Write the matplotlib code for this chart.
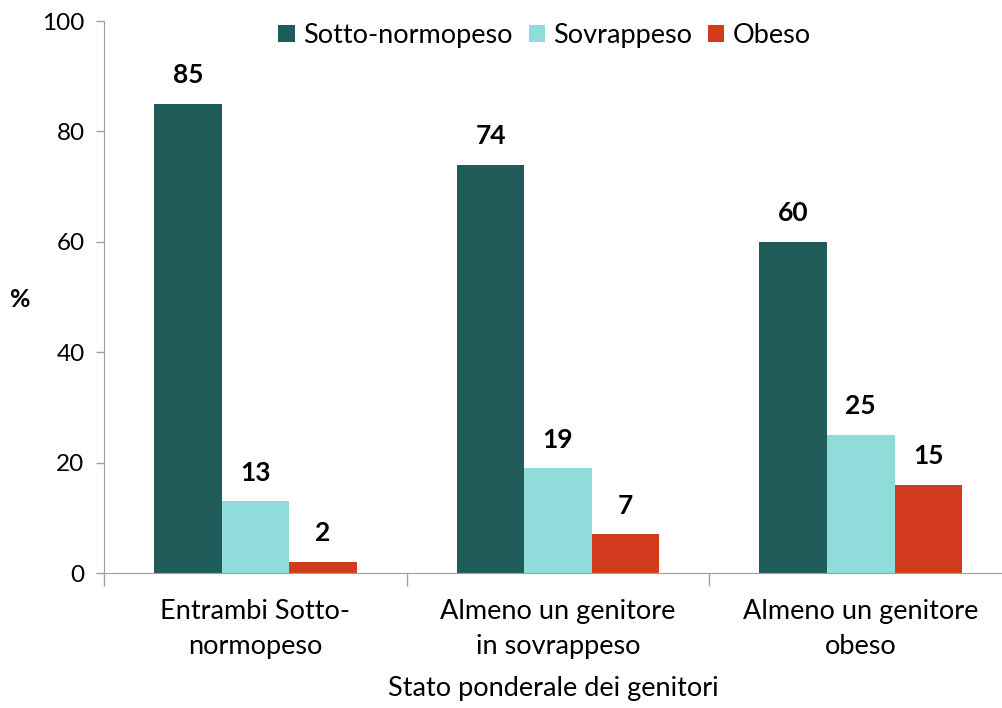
import numpy as np
import matplotlib
matplotlib.use("Agg")
import matplotlib.pyplot as plt

categories = ["Entrambi Sotto-\nnormopeso", "Almeno un genitore\nin sovrappeso", "Almeno un genitore\nobeso"]
series_names = ["Sotto-normopeso", "Sovrappeso", "Obeso"]
sotto_normopeso = [85, 74, 60]
sovrappeso = [13, 19, 25]
obeso = [2, 7, 16]
value_labels = [["85", "74", "60"], ["13", "19", "25"], ["2", "7", "15"]]
colors = ["#1F5C5A", "#8FDCDA", "#D23B1E"]

plt.rcParams['font.family'] = ['Lato', 'DejaVu Sans']

fig = plt.figure(figsize=(10.03, 7.08), dpi=100)
ax = fig.add_axes([104/1003, 135/708, 899/1003, 552/708])

x = np.arange(len(categories))
w = 0.223
all_series = [sotto_normopeso, sovrappeso, obeso]
for i, vals in enumerate(all_series):
    bars = ax.bar(x + (i - 1) * w, vals, w, color=colors[i], label=series_names[i])
    for b, lab in zip(bars, value_labels[i]):
        ax.text(b.get_x() + b.get_width()/2, b.get_height() + 3.0, lab,
                ha='center', va='bottom', fontsize=19, fontweight='bold')

ax.set_xlim(-0.5, -0.5 + 899/302.7)
ax.set_ylim(0, 100)
ax.set_yticks([0, 20, 40, 60, 80, 100])
ax.tick_params(axis='y', labelsize=17.5, length=6, color='#A0A0A0', width=1, pad=8)
ax.set_xticks(x)
ax.set_xticklabels(categories, fontsize=19.5, linespacing=1.5)
ax.tick_params(axis='x', length=0, pad=19)
# tacche sui confini delle categorie
ax.set_xticks(np.arange(-0.5, 2.5, 1), minor=True)
ax.tick_params(axis='x', which='minor', length=9, color='#A0A0A0', width=1)

for s in ['top', 'right']:
    ax.spines[s].set_visible(False)
ax.spines['left'].set_color('#A0A0A0')
ax.spines['bottom'].set_color('#A0A0A0')

ax.set_xlabel("Stato ponderale dei genitori", fontsize=19.5, labelpad=12)
ax.set_ylabel("%", fontsize=18, fontweight='bold', rotation=0, va='center', ha='center')
ax.yaxis.set_label_coords(-0.093, 0.495)

ax.legend(loc='upper center', bbox_to_anchor=(0.49, 1.04), ncol=3, frameon=False,
          fontsize=19.5, handlelength=0.6, handleheight=0.6, handletextpad=0.3,
          columnspacing=0.6)

fig.savefig("out.png", dpi=100)
